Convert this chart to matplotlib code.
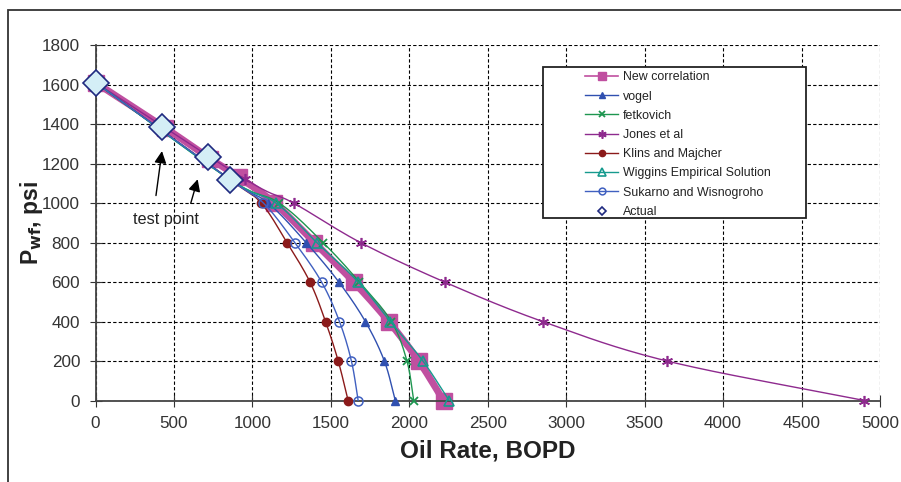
import numpy as np
import matplotlib
matplotlib.use("Agg")
import matplotlib.pyplot as plt
from matplotlib.lines import Line2D
from matplotlib.patches import Rectangle

plt.rcParams['font.family'] = ['Liberation Sans', 'DejaVu Sans']

# pressures (psi)
p_new = [1610, 1380, 1225, 1130, 1000, 800, 600, 400, 200, 0]
p_ipr = [1610, 1120, 1000, 800, 600, 400, 200, 0]
p_actual = [1610, 1383, 1234, 1118]

# oil rates (BOPD)
q_new = [0, 445, 730, 915, 1140, 1395, 1646, 1869, 2060, 2218]
q_vogel = [0, 855, 1100, 1342, 1551, 1720, 1841, 1911]
q_fetkovich = [0, 855, 1171, 1450, 1682, 1886, 1985, 2028]
q_jones = [0, 955, 1262, 1689, 2225, 2850, 3643, 4900]
q_klins = [0, 855, 1055, 1220, 1367, 1466, 1547, 1610]
q_wiggins = [0, 855, 1150, 1410, 1674, 1879, 2087, 2254]
q_sukarno = [0, 855, 1070, 1270, 1441, 1555, 1631, 1674]
q_actual = [0, 425, 718, 855]


def smooth(x, y, n=20):
    # catmull-rom style curve through the points, like excel smoothed lines
    x = np.asarray(x, float)
    y = np.asarray(y, float)
    px = np.concatenate([[2 * x[0] - x[1]], x, [2 * x[-1] - x[-2]]])
    py = np.concatenate([[2 * y[0] - y[1]], y, [2 * y[-1] - y[-2]]])
    xs, ys = [], []
    t = np.linspace(0, 1, n)
    for i in range(1, len(px) - 2):
        for arr, out in ((px, xs), (py, ys)):
            p0, p1, p2, p3 = arr[i - 1], arr[i], arr[i + 1], arr[i + 2]
            out.extend(0.5 * ((2 * p1) + (-p0 + p2) * t
                              + (2 * p0 - 5 * p1 + 4 * p2 - p3) * t ** 2
                              + (-p0 + 3 * p1 - 3 * p2 + p3) * t ** 3))
    return xs, ys


series = [
    (q_vogel, "vogel", "#3050B0", dict(marker="^", ms=6, mfc="#3050B0", mec="#3050B0")),
    (q_fetkovich, "fetkovich", "#1E9650", dict(marker="x", ms=6, mew=1.3, mec="#1E9650")),
    (q_jones, "Jones et al", "#8E2A8E", dict(marker=(6, 2, 0), ms=8, mew=1.2, mec="#8E2A8E")),
    (q_klins, "Klins and Majcher", "#8B1A1A", dict(marker="o", ms=6, mfc="#8B1A1A", mec="#8B1A1A")),
    (q_wiggins, "Wiggins Empirical Solution", "#169A8E", dict(marker="^", ms=7, mfc="none", mec="#169A8E", mew=1.2)),
    (q_sukarno, "Sukarno and Wisnogroho", "#4060C0", dict(marker="o", ms=6.5, mfc="none", mec="#4060C0", mew=1.1)),
]

fig = plt.figure(figsize=(9.01, 4.82), dpi=100)
ax = fig.add_axes([0.106, 0.169, 0.8707, 0.7376])

fig.patches.append(Rectangle((8 / 901, -0.1), 1.2, 1 - 10 / 482 + 0.1, transform=fig.transFigure,
                             fill=False, edgecolor="#333333", lw=1.3))

pink = "#C04FA0"
xs, ys = smooth(q_new, p_new)
ax.plot(xs, ys, color=pink, lw=5, zorder=2, solid_capstyle="butt")
ax.plot(q_new, p_new, ls="none", marker="s", ms=11, color=pink, zorder=2, clip_on=False)

for q, name, c, mk in series:
    xs, ys = smooth(q, p_ipr)
    ax.plot(xs, ys, color=c, lw=1, zorder=3)
    ax.plot(q, p_ipr, ls="none", zorder=3, clip_on=False, **mk)

ax.plot(q_actual, p_actual, ls="none", marker="D", ms=13, mfc="#D4EEF6", mec="#1F2A80", mew=1.2,
        zorder=5, clip_on=False)

ax.set_xlim(0, 5000)
ax.set_ylim(0, 1800)
ax.set_xticks(range(0, 5001, 500))
ax.set_yticks(range(0, 1801, 200))
ax.grid(True, color="black", ls=(0, (3, 2)), lw=0.8)
ax.set_axisbelow(True)
for s in ("top", "right"):
    ax.spines[s].set_visible(False)
for s in ("left", "bottom"):
    ax.spines[s].set_color("#444444")
    ax.spines[s].set_linewidth(1.3)
ax.tick_params(direction="inout", length=8, pad=7, labelsize=12.3, colors="#333333")
ax.set_xlabel("Oil Rate, BOPD", fontsize=17.5, fontweight="bold", color="#222222", labelpad=6)
ax.set_ylabel(r"P$_{\mathbf{wf}}$, psi", fontsize=16.5, fontweight="bold", color="#222222", labelpad=-2)

ax.text(449, 919, "test point", fontsize=11.7, ha="center", va="center", color="#222222")
ax.annotate("", xy=(426, 1277), xytext=(383, 1024),
            arrowprops=dict(arrowstyle="-|>", color="black", lw=1, mutation_scale=18))
ax.annotate("", xy=(656, 1134), xytext=(602, 985),
            arrowprops=dict(arrowstyle="-|>", color="black", lw=1, mutation_scale=18))

# legend box drawn by hand, it is wider than the entries
ax.add_patch(Rectangle((0.570, 0.513), 0.336, 0.425, transform=ax.transAxes, facecolor="white",
                       edgecolor="#222222", lw=1.3, zorder=9))

handles = [Line2D([], [], color=pink, lw=1.2, marker="s", ms=6, label="New correlation")]
for q, name, c, mk in series:
    m = dict(mk)
    m["ms"] = m["ms"] * 0.75
    handles.append(Line2D([], [], color=c, lw=1, label=name, **m))
handles.append(Line2D([], [], ls="none", marker="D", ms=4.5, mfc="white", mec="#1F2A80", mew=1.2, label="Actual"))

leg = ax.legend(handles=handles, loc="upper left", bbox_to_anchor=(0.624, 0.926), fontsize=8.9,
                frameon=False, handlelength=2.7, labelspacing=0.585, borderpad=0,
                borderaxespad=0, handletextpad=0.35)
leg.set_zorder(10)
for t in leg.get_texts():
    t.set_color("#222222")

fig.savefig("out.png", dpi=100)
